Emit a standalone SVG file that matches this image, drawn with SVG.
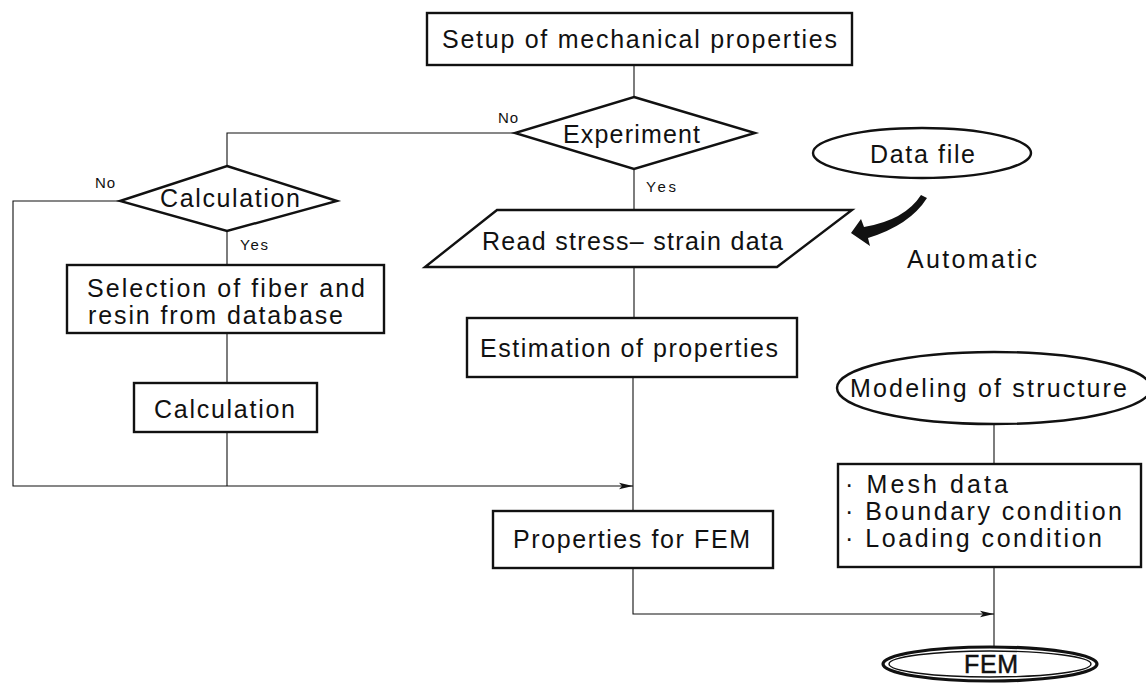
<svg xmlns="http://www.w3.org/2000/svg" width="1146" height="683" viewBox="0 0 1146 683">
  <style>
    .box { fill: #fff; stroke: #111; stroke-width: 2.4; }
    .wire { fill: none; stroke: #111; stroke-width: 1.1; }
    .lbl { font-family: "Liberation Sans", Arial, sans-serif; font-size: 25px; fill: #111; }
    .small { font-family: "Liberation Sans", Arial, sans-serif; font-size: 15px; fill: #111; }
  </style>
  <defs>
    <marker id="arrow" viewBox="0 0 14 8" refX="14" refY="4" markerWidth="14" markerHeight="8" markerUnits="userSpaceOnUse" orient="auto">
      <path d="M0,0.8 L14,4 L0,7.2 L3,4 Z" fill="#111"/>
    </marker>
  </defs>
  <rect width="1146" height="683" fill="#fff"/>

  <!-- connectors -->
  <g id="connectors">
    <path class="wire" d="M634,65 V97"/>
    <path class="wire" d="M515,133 H227 V166"/>
    <path class="wire" d="M120,201 H13 V486 H633" marker-end="url(#arrow)"/>
    <path class="wire" d="M227,231 V265"/>
    <path class="wire" d="M227,333 V383"/>
    <path class="wire" d="M227,432 V486"/>
    <path class="wire" d="M634,169 V210"/>
    <path class="wire" d="M634,267 V318"/>
    <path class="wire" d="M633,377 V511"/>
    <path class="wire" d="M633,568 V614 H994" marker-end="url(#arrow)"/>
    <path class="wire" d="M994,424 V464"/>
    <path class="wire" d="M994,567 V648"/>
    <!-- automatic transfer arrow from the data file -->
    <path d="M921,195 L927,198 Q910,225 868,238 L870,246 L851,233 L861,219 L864,227 Q905,220 921,195 Z" fill="#111"/>
  </g>

  <g id="setup">
    <rect class="box" x="427" y="13" width="425" height="52"/>
    <text class="lbl" x="442" y="48" textLength="395" lengthAdjust="spacing">Setup of mechanical properties</text>
  </g>

  <g id="experiment">
    <polygon class="box" points="634,97 755,133 634,169 515,133"/>
    <text class="lbl" x="563" y="143" textLength="137" lengthAdjust="spacing">Experiment</text>
    <text class="small" x="498" y="123" textLength="20" lengthAdjust="spacing">No</text>
    <text class="small" x="646" y="192" textLength="30" lengthAdjust="spacing">Yes</text>
  </g>

  <g id="calc-decision">
    <polygon class="box" points="227,166 337,201 227,231 120,201"/>
    <text class="lbl" x="160" y="207" textLength="140" lengthAdjust="spacing">Calculation</text>
    <text class="small" x="95" y="188" textLength="20" lengthAdjust="spacing">No</text>
    <text class="small" x="240" y="250" textLength="28" lengthAdjust="spacing">Yes</text>
  </g>

  <g id="selection">
    <rect class="box" x="67" y="265" width="317" height="68"/>
    <text class="lbl" x="87" y="297" textLength="278" lengthAdjust="spacing">Selection of fiber and</text>
    <text class="lbl" x="88" y="324" textLength="255" lengthAdjust="spacing">resin from database</text>
  </g>

  <g id="calculation">
    <rect class="box" x="134" y="383" width="183" height="49"/>
    <text class="lbl" x="154" y="418" textLength="141" lengthAdjust="spacing">Calculation</text>
  </g>

  <g id="read-data">
    <polygon class="box" points="497,210 852,210 777,267 425,267"/>
    <text class="lbl" x="482" y="250" textLength="301" lengthAdjust="spacing">Read stress– strain data</text>
  </g>

  <g id="data-file">
    <ellipse class="box" cx="922" cy="153" rx="109" ry="25"/>
    <text class="lbl" x="870" y="163" textLength="105" lengthAdjust="spacing">Data file</text>
  </g>

  <g id="automatic">
    <text class="lbl" x="907" y="268" textLength="130" lengthAdjust="spacing">Automatic</text>
  </g>

  <g id="estimation">
    <rect class="box" x="467" y="318" width="330" height="59"/>
    <text class="lbl" x="480" y="357" textLength="298" lengthAdjust="spacing">Estimation of properties</text>
  </g>

  <g id="properties-fem">
    <rect class="box" x="493" y="511" width="280" height="57"/>
    <text class="lbl" x="513" y="548" textLength="237" lengthAdjust="spacing">Properties for FEM</text>
  </g>

  <g id="modeling">
    <ellipse class="box" cx="994" cy="388" rx="157" ry="36"/>
    <text class="lbl" x="850" y="397" textLength="277" lengthAdjust="spacing">Modeling of structure</text>
  </g>

  <g id="mesh">
    <rect class="box" x="838" y="464" width="303" height="103"/>
    <text class="lbl" x="845" y="493" textLength="163" lengthAdjust="spacing">· Mesh data</text>
    <text class="lbl" x="845" y="520" textLength="277" lengthAdjust="spacing">· Boundary condition</text>
    <text class="lbl" x="845" y="547" textLength="257" lengthAdjust="spacing">· Loading condition</text>
  </g>

  <g id="fem">
    <ellipse cx="990" cy="664" rx="107" ry="17" fill="#fff" stroke="#111" stroke-width="3.2"/>
    <ellipse cx="990" cy="664" rx="101" ry="13" fill="none" stroke="#111" stroke-width="1.4"/>
    <text class="lbl" x="964" y="673" font-size="23" stroke="#111" stroke-width="0.5" textLength="54" lengthAdjust="spacing">FEM</text>
  </g>
</svg>
